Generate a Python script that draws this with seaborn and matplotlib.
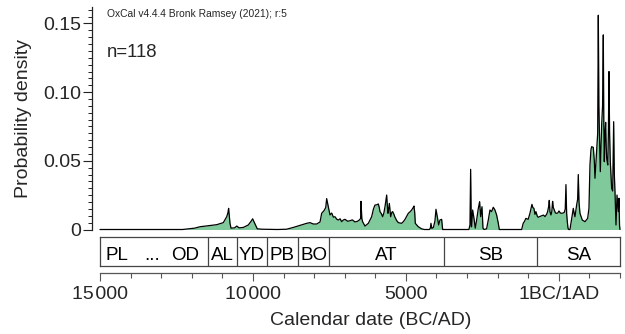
import matplotlib
matplotlib.use("Agg")
import matplotlib.pyplot as plt
import seaborn as sns
import numpy as np
from matplotlib.ticker import MultipleLocator, FixedLocator

# ---- data (calendar years, BC negative; 0 = 1BC/1AD) ----
years = [-15000, -12300, -12100, -11900, -11731, -11450, -11186, -10969, -10858, -10820,
         -10795, -10770, -10750, -10717, -10600, -10531, -10450, -10316, -10152, -10060,
         -10010, -9950, -9900, -9858, -9700, -9200, -8900, -8681, -8462, -8243,
         -8135, -8025, -7916, -7807, -7753, -7677, -7620, -7590, -7560, -7536,
         -7481, -7426, -7370, -7318, -7260, -7209, -7150, -7100, -7040, -6991,
         -6900, -6827, -6750, -6664, -6580, -6523, -6480, -6468, -6440, -6416,
         -6337, -6228, -6119, -6060, -6010, -5950, -5901, -5870, -5847, -5800,
         -5760, -5720, -5683, -5628, -5600, -5585, -5541, -5497, -5460, -5432,
         -5390, -5356, -5300, -5247, -5138, -5080, -5029, -4920, -4860, -4811,
         -4760, -4735, -4710, -4692, -4594, -4485, -4400, -4230, -4200, -4180,
         -4150, -4100, -4049, -4016, -3973, -3929, -3886, -3831, -3810, -3798,
         -2940, -2905, -2883, -2860, -2850, -2818, -2774, -2731, -2687, -2632,
         -2589, -2556, -2512, -2480, -2440, -2362, -2306, -2251, -2197, -2143,
         -2088, -2034, -1979, -1946, -1215, -1165, -1120, -1078, -1002, -944,
         -879, -850, -814, -780, -749, -700, -672, -620, -563, -500,
         -453, -400, -366, -330, -312, -290, -257, -230, -203, -180,
         -149, -110, -73, -35, 5, 50, 92, 140, 179, 210,
         233, 255, 277, 300, 320, 364, 400, 419, 473, 500,
         528, 582, 615, 636, 660, 691, 767, 855, 942, 985,
         1018, 1050, 1073, 1127, 1160, 1182, 1214, 1247, 1270, 1291,
         1310, 1324, 1356, 1380, 1400, 1430, 1454, 1470, 1487, 1510,
         1531, 1550, 1564, 1600, 1620, 1640, 1660, 1683, 1727, 1760,
         1793, 1815, 1836, 1869, 1902, 1945, 1967, 1985, 2000]

density = [0, 0, 0.0005, 0.001, 0.002, 0.0028, 0.0035, 0.005, 0.0093, 0.012,
           0.0154, 0.009, 0.0045, 0.001, 0.0012, 0.0025, 0.0012, 0.0015, 0.0033, 0.006,
           0.0078, 0.005, 0.0025, 0.0005, 0.0002, 0, 0.0002, 0.0015, 0.003, 0.0045,
           0.005, 0.004, 0.004, 0.0055, 0.0118, 0.0137, 0.016, 0.0225, 0.019, 0.0166,
           0.0106, 0.012, 0.009, 0.0093, 0.0075, 0.0069, 0.0078, 0.0057, 0.007, 0.0074,
           0.006, 0.0064, 0.007, 0.0055, 0.006, 0.0069, 0.008, 0.0205, 0.008, 0.0057,
           0.0025, 0.0045, 0.0093, 0.015, 0.0178, 0.018, 0.0186, 0.016, 0.013, 0.0115,
           0.0093, 0.012, 0.0166, 0.0251, 0.015, 0.0118, 0.019, 0.0093, 0.0125, 0.013,
           0.011, 0.0089, 0.0065, 0.005, 0.0045, 0.0058, 0.0074, 0.0118, 0.013, 0.0142,
           0.016, 0.0171, 0.012, 0.0045, 0.002, 0.0005, 0, 0, 0.001, 0.0045,
           0.0008, 0.0015, 0.0064, 0.0147, 0.0093, 0.0033, 0.0069, 0.0074, 0.003, 0,
           0, 0.0033, 0.0438, 0.002, 0.002, 0.0142, 0.0081, 0.001, 0.0069, 0.0154,
           0.0203, 0.0093, 0.0166, 0.001, 0, 0.0005, 0.0069, 0.0142, 0.013, 0.0162,
           0.0142, 0.0106, 0.0045, 0, 0, 0.0045, 0.006, 0.0081, 0.0074, 0.0118,
           0.0183, 0.016, 0.0154, 0.011, 0.013, 0.0095, 0.0089, 0.0095, 0.01, 0.0105,
           0.0094, 0.011, 0.013, 0.017, 0.0212, 0.013, 0.0106, 0.013, 0.0205, 0.016,
           0.0142, 0.012, 0.0118, 0.012, 0.0135, 0.012, 0.0118, 0.012, 0.0125, 0.015,
           0.0327, 0.012, 0.0057, 0.001, 0, 0, 0.005, 0.0081, 0.0154, 0.012,
           0.0093, 0.0178, 0.022, 0.04, 0.02, 0.0118, 0.0069, 0.0057, 0.0081, 0.0154,
           0.047, 0.058, 0.0603, 0.0598, 0.05, 0.0373, 0.0494, 0.0615, 0.07, 0.156,
           0.09, 0.0737, 0.0421, 0.06, 0.0761, 0.09, 0.1417, 0.08, 0.0494, 0.07,
           0.078, 0.06, 0.0519, 0.047, 0.07, 0.115, 0.07, 0.0494, 0.030, 0.028,
           0.0785, 0.04, 0.0275, 0.0033, 0.0251, 0.013, 0.0227, 0.003, 0]

period_bounds = [-11479, -10511, -9551, -8517, -7523, -3754, -704]
period_labels = ["PL", "...", "OD", "AL", "YD", "PB", "BO", "AT", "SB", "SA"]
period_label_x = [-14454, -13310, -12221, -10995, -10031, -9034, -8020, -5638, -2229, 648]

x_major = [-15000, -10000, -5000, 0]
x_major_labels = ["15\u200a000", "10\u200a000", "5000", "1BC/1AD"]
y_major = [0, 0.05, 0.10, 0.15]
y_major_labels = ["0", "0.05", "0.10", "0.15"]

sns.set_theme(style="white")
plt.rcParams["font.family"] = ["Liberation Sans", "DejaVu Sans"]

W, H = 625, 334
fig = plt.figure(figsize=(W / 100, H / 100), dpi=100)

def fx(px):
    return px / W

def fy(py):
    return 1 - py / H

# main density axes
ax = fig.add_axes([fx(100), fy(229.5), fx(520), (229.5 - 7) / H])
ax.set_facecolor("none")
ax.fill_between(years, density, 0, color="#7fc99b", lw=0, clip_on=False)
sns.lineplot(x=years, y=density, ax=ax, color="black", lw=0.9,
             estimator=None, sort=False, clip_on=False)
ax.set_xlim(-15000, 2000)
ax.set_ylim(0, 0.162)
for s in ["top", "right", "bottom"]:
    ax.spines[s].set_visible(False)
ax.spines["left"].set_position(("outward", 6.1))
ax.spines["left"].set_color("#222222")
ax.spines["left"].set_linewidth(0.9)
ax.set_xticks([])
ax.yaxis.set_major_locator(FixedLocator(y_major))
ax.set_yticklabels(y_major_labels)
ax.yaxis.set_minor_locator(MultipleLocator(0.005))
ax.tick_params(axis="y", which="major", direction="out", length=6.3, width=0.8,
               color="#222222", pad=1, labelsize=14, left=True)
ax.tick_params(axis="y", which="minor", direction="out", length=3, width=0.7,
               color="#222222", left=True)
ax.set_xlabel("")
ax.set_ylabel("")

# period box
bx = fig.add_axes([fx(100), fy(265.7), fx(520), (265.7 - 237.3) / H])
bx.set_xlim(-15000, 2000)
bx.set_ylim(0, 1)
bx.set_xticks([])
bx.set_yticks([])
bx.set_facecolor("white")
for s in bx.spines.values():
    s.set_color("#444444")
    s.set_linewidth(0.9)
for b in period_bounds:
    bx.axvline(b, color="#444444", lw=0.9)
for lab, xc in zip(period_labels, period_label_x):
    bx.text(xc, 0.2, lab, ha="center", va="baseline", fontsize=13.5, color="black")

# calendar axis
tx = fig.add_axes([fx(100), fy(273.3), fx(520), 0.002])
tx.set_facecolor("none")
tx.set_xlim(-15000, 2000)
tx.set_yticks([])
for s in ["top", "right", "left"]:
    tx.spines[s].set_visible(False)
tx.spines["bottom"].set_color("#555555")
tx.spines["bottom"].set_linewidth(0.9)
tx.xaxis.set_major_locator(FixedLocator(x_major))
tx.set_xticklabels(x_major_labels)
tx.xaxis.set_minor_locator(MultipleLocator(1000))
tx.tick_params(axis="x", which="major", direction="out", length=6, width=0.8,
               color="#555555", pad=3, labelsize=14, bottom=True)
tx.tick_params(axis="x", which="minor", direction="out", length=3.5, width=0.8,
               color="#555555", bottom=True)

# texts
fig.text(fx(106.7), fy(16.7), "OxCal v4.4.4 Bronk Ramsey (2021); r:5",
         fontsize=7.4, va="baseline", ha="left")
fig.text(fx(106.7), fy(57.3), "n=118", fontsize=13.4, va="baseline", ha="left")
fig.text(fx(24), fy(118), "Probability density", rotation=90,
         ha="center", va="center", fontsize=14)
fig.text(fx(371), fy(325), "Calendar date (BC/AD)", ha="center",
         va="baseline", fontsize=14)

fig.savefig("out.png", dpi=100)
